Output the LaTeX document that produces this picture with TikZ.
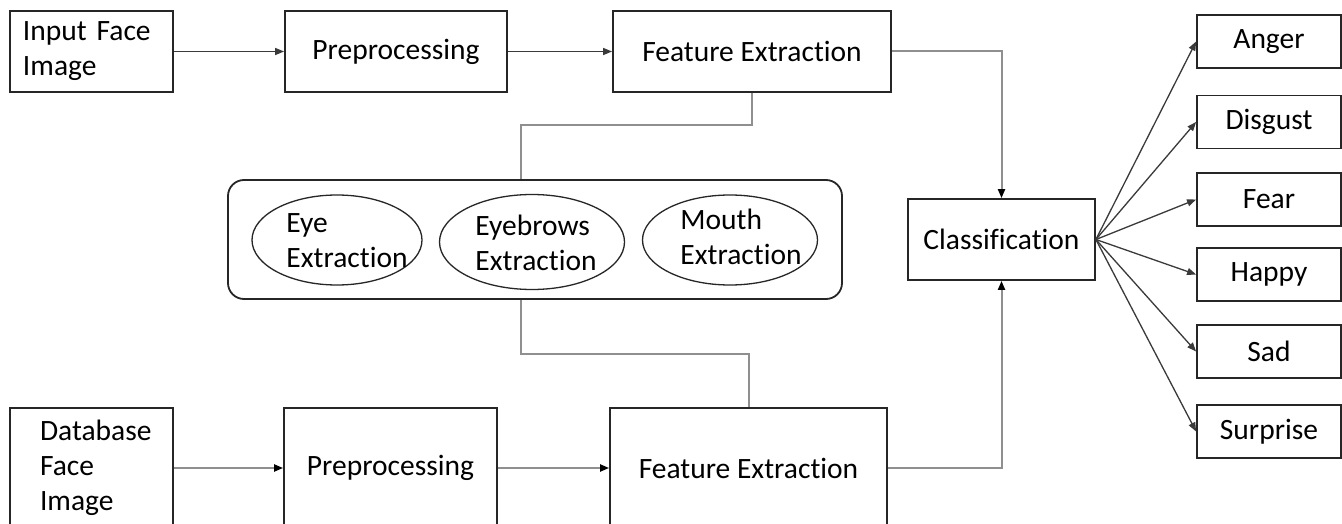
\documentclass[tikz,border=0pt]{standalone}
\usepackage{fontspec}
\setmainfont{Carlito}[Ligatures=NoCommon]
\usetikzlibrary{arrows.meta,shapes.geometric}
\definecolor{boxc}{HTML}{262626}
\definecolor{lnc}{HTML}{8F8F8F}
\definecolor{arc}{HTML}{3A3A3A}
\begin{document}
\begin{tikzpicture}[x=1pt,y=-1pt,
  font=\fontsize{29.5}{35}\selectfont,
  box/.style={draw=boxc, line width=1.8pt, rectangle, inner sep=0pt, align=center},
  emo/.style={box, minimum width=144pt, minimum height=53pt},
  ell/.style={draw=boxc, line width=1.3pt, ellipse, inner sep=0pt},
  etext/.style={align=left, inner sep=0pt},
  arr/.style={draw=arc, line width=1.3pt, -{Triangle[length=9pt,width=7pt]}},
  conn/.style={draw=lnc, line width=2pt},
  connarr/.style={draw=lnc, line width=2pt, -{Triangle[length=9pt,width=7pt,fill=black,color=black]}},
]
\useasboundingbox (0,0) rectangle (1342,524);
\clip (0,0) rectangle (1342,524);
\fill[white] (0,0) rectangle (1342,524);

% top row
\node[box, minimum width=163pt, minimum height=81pt, text width=137pt, align=left] (in1) at (91.5,51.5) {Input Face\\Image};
\node[box, minimum width=222pt, minimum height=81pt] (pre1) at (396,51.5) {Preprocessing};
\node[box, minimum width=278pt, minimum height=81pt] (fe1) at (752,51.5) {Feature Extraction};

% bottom row
\node[box, minimum width=163pt, minimum height=120pt, text width=103pt, align=left] (db) at (91.5,468) {Database\\Face\\Image};
\node[box, minimum width=213pt, minimum height=120pt] (pre2) at (390.5,468) {Preprocessing};
\node[box, minimum width=277pt, minimum height=120pt] (fe2) at (748.5,468) {Feature Extraction};

% group
\node[draw=boxc, line width=1.8pt, rounded corners=16pt, minimum width=614pt, minimum height=119pt, inner sep=0pt] (grp) at (535,239.5) {};
\node[ell, minimum width=170pt, minimum height=90pt] (eye) at (337,240) {};
\node[ell, minimum width=185pt, minimum height=95pt] (brow) at (532,242) {};
\node[ell, minimum width=175pt, minimum height=90pt] (mouth) at (730,240) {};
\node[etext] (eyet) at (347,241) {Eye\\Extraction};
\node[etext] (browt) at (536,243) {Eyebrows\\Extraction};
\node[etext] (moutht) at (741,237) {Mouth\\Extraction};

% classification
\node[box, minimum width=187pt, minimum height=81pt] (cls) at (1001.5,239.5) {Classification};

% emotions
\node[emo] (anger) at (1269,41.5) {Anger};
\node[emo] (disgust) at (1269,122) {Disgust};
\node[emo] (fear) at (1269,199.5) {Fear};
\node[emo] (happy) at (1269,274.5) {Happy};
\node[emo] (sad) at (1269,351.5) {Sad};
\node[emo] (surprise) at (1269,431.5) {Surprise};

% connectors
\draw[arr] (in1.east) -- (pre1.west);
\draw[arr] (pre1.east) -- (fe1.west);
\draw[connarr] (db.east) -- (pre2.west);
\draw[connarr] (pre2.east) -- (fe2.west);
\draw[connarr] (fe1.east) -| (cls.north);
\draw[connarr] (fe2.east) -| (cls.south);
\draw[conn] (fe1.south) -- ++(0,32) -| ([xshift=-14pt]grp.north);
\draw[conn] ([xshift=-14pt]grp.south) -- ++(0,54) -| (fe2.north);

\foreach \e in {anger,disgust,fear,happy,sad,surprise}
  \draw[arr] (cls.east) -- (\e.west);
\end{tikzpicture}
\end{document}
